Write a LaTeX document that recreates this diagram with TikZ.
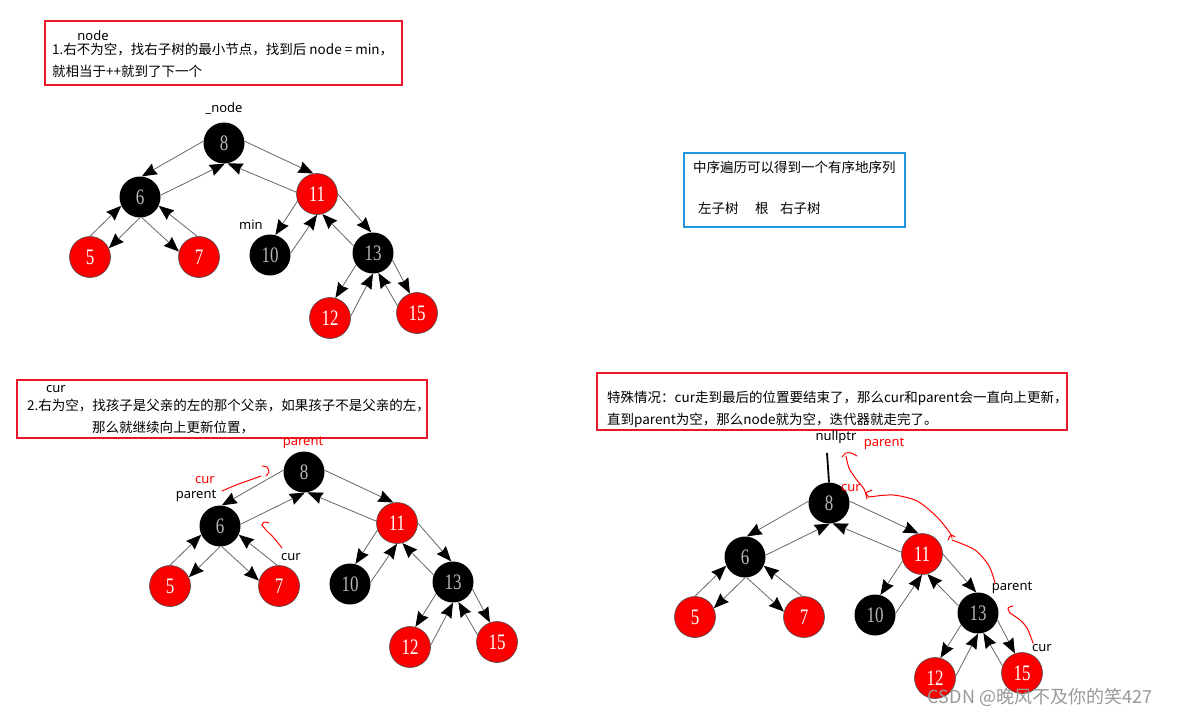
\documentclass[tikz,border=0pt]{standalone}
\usepackage{graphicx}
\usepackage{fontspec}
\setmainfont{Liberation Serif}
\setsansfont{Noto Sans}
\newfontfamily\cjk{Noto Sans CJK SC}
\usetikzlibrary{arrows.meta}
\definecolor{boxred}{RGB}{232,22,40}
\definecolor{boxblue}{RGB}{30,150,225}
\definecolor{rbred}{RGB}{250,0,0}
\tikzset{
  bn/.style={circle,fill=black,minimum size=41pt,inner sep=0pt,text=black!28,font=\fontsize{17}{17}\selectfont},
  rn/.style={circle,fill=rbred,draw=black!70,line width=0.6pt,minimum size=41pt,inner sep=0pt,text=white,font=\fontsize{17}{17}\selectfont},
  tedge/.style={draw=black!60,line width=0.8pt,-{Stealth[length=15pt,width=12pt,inset=1.5pt,color=black]}},
  textbox/.style={draw=boxred,line width=2pt},
  boxtxt/.style={anchor=base west,inner sep=0pt,font=\cjk\fontsize{13.5}{16}\selectfont},
  lbl/.style={inner sep=0pt,font=\sffamily\fontsize{13}{14}\selectfont},
  rlbl/.style={lbl,text=red},
  handred/.style={draw=red,line width=1pt,line cap=round,line join=round},
}
\newcommand{\tallnum}[1]{\scalebox{1}[1.3]{#1}}
\newcommand{\rbtree}[1]{%
  \node[bn] (#1-8) at (224,143) {\tallnum{8}};
  \node[bn] (#1-6) at (140,197) {\tallnum{6}};
  \node[rn] (#1-5) at (90,257) {\tallnum{5}};
  \node[rn] (#1-7) at (199,257) {\tallnum{7}};
  \node[rn] (#1-11) at (317,194) {\tallnum{11}};
  \node[bn] (#1-10) at (270,255) {\tallnum{10}};
  \node[bn] (#1-13) at (373,253) {\tallnum{13}};
  \node[rn] (#1-12) at (330,318) {\tallnum{12}};
  \node[rn] (#1-15) at (417,313) {\tallnum{15}};
  \draw[tedge] (#1-8.175) -- (#1-6.85);
  \draw[tedge] (#1-6.5) -- (#1-8.-88);
  \draw[tedge] (#1-8.5) -- (#1-11.100);
  \draw[tedge] (#1-11.175) -- (#1-8.-80);
  \draw[tedge] (#1-6.-90) -- (#1-5.25);
  \draw[tedge] (#1-5.90) -- (#1-6.205);
  \draw[tedge] (#1-6.-85) -- (#1-7.165);
  \draw[tedge] (#1-7.95) -- (#1-6.335);
  \draw[tedge] (#1-11.200) -- (#1-10.75);
  \draw[tedge] (#1-10.5) -- (#1-11.-90);
  \draw[tedge] (#1-11.0) -- (#1-13.95);
  \draw[tedge] (#1-13.160) -- (#1-11.-75);
  \draw[tedge] (#1-13.215) -- (#1-12.75);
  \draw[tedge] (#1-12.5) -- (#1-13.-90);
  \draw[tedge] (#1-13.340) -- (#1-15.110);
  \draw[tedge] (#1-15.160) -- (#1-13.-75);
}
\begin{document}
\begin{tikzpicture}[x=1pt,y=-1pt]
\useasboundingbox (0,0) rectangle (1177,717);
\fill[white] (0,0) rectangle (1177,717);

% ---------- box 1 ----------
\draw[textbox] (45,21) rectangle (402,85);
\node[boxtxt] (b1a) at (52,55) {1.右不为空，找右子树的最小节点，找到后 node = min，};
\node[boxtxt] (b1b) at (52,77) {就相当于++就到了下一个};
\node[lbl] (b1n) at (93,36) {node};

% ---------- tree 1 ----------
\rbtree{A}
\node[lbl] (la) at (224,109) {\_node};
\node[lbl] (lb) at (251,225) {min};

% ---------- blue box ----------
\draw[draw=boxblue,line width=2pt] (684,153) rectangle (905,227);
\node[boxtxt] (c1) at (693,172) {中序遍历可以得到一个有序地序列};
\node[boxtxt] (c2) at (698,213) {左子树};
\node[boxtxt] (c3) at (755,213) {根};
\node[boxtxt] (c4) at (780,213) {右子树};

% ---------- box 2 ----------
\draw[textbox] (17,380) rectangle (427,438);
\node[boxtxt] (b2a) at (27,410) {2.右为空，找孩子是父亲的左的那个父亲，如果孩子不是父亲的左，};
\node[boxtxt] (b2b) at (92,432) {那么就继续向上更新位置，};
\node[lbl] (b2n) at (56,389) {cur};

% ---------- tree 2 ----------
\begin{scope}[shift={(80,329)}]
\rbtree{B}
\end{scope}
\node[rlbl] (m1) at (303,443) {parent};
\node[rlbl] (m2) at (205,480) {cur};
\node[lbl] (m3) at (196,496) {parent};
\node[lbl] (m4) at (291,557) {cur};
\draw[handred] plot[smooth] coordinates {(222,491) (236,485) (250,480) (261,476)};
\draw[handred] plot[smooth] coordinates {(262,466) (267,467) (269,472) (266,476)};
\draw[handred] plot[smooth] coordinates {(282,548) (274,538) (266,530) (262,525)};
\draw[handred] plot[smooth] coordinates {(262,525) (264,522) (269,523)};

% ---------- box 3 ----------
\draw[textbox] (597,373) rectangle (1067,430);
\node[boxtxt] (b3a) at (607,402) {特殊情况：cur走到最后的位置要结束了，那么cur和parent会一直向上更新，};
\node[boxtxt] (b3b) at (607,424) {直到parent为空，那么node就为空，迭代器就走完了。};

% ---------- tree 3 ----------
\begin{scope}[shift={(605,360)}]
\rbtree{C}
\end{scope}
\node[lbl] (n1) at (836,437) {nullptr};
\coordinate (ntop) at (827,453);
\draw[line width=1.8pt] (ntop) -- (C-8.north);
\node[rlbl] (n2) at (884,444) {parent};
\node[rlbl] (n3) at (851,488) {cur};
\node[lbl] (n4) at (1012,588) {parent};
\node[lbl] (n5) at (1042,648) {cur};
\draw[handred] plot[smooth] coordinates {(842,457) (846,453) (851,453) (857,456)};
\draw[handred] plot[smooth] coordinates {(846,456) (849,468) (856,479) (864,489) (867,499)};
\draw[handred] plot[smooth] coordinates {(872,490) (866,493) (869,497)};
\draw[handred] plot[smooth] coordinates {(869,497) (893,495) (917,501) (937,517) (950,533) (952,538)};
\draw[handred] plot[smooth] coordinates {(948,540) (951,535) (955,537)};
\draw[handred] plot[smooth] coordinates {(952,540) (975,550) (989,566) (995,583)};
\draw[handred] plot[smooth] coordinates {(1013,606) (1008,608) (1010,613)};
\draw[handred] plot[smooth] coordinates {(1010,613) (1020,620) (1027,628) (1033,643)};

% ---------- watermark ----------
\node[inner sep=0pt,text=black!40,font=\cjk\fontsize{18}{20}\selectfont] (wm) at (1040,697) {CSDN @晚风不及你的笑427};
\end{tikzpicture}
\end{document}
